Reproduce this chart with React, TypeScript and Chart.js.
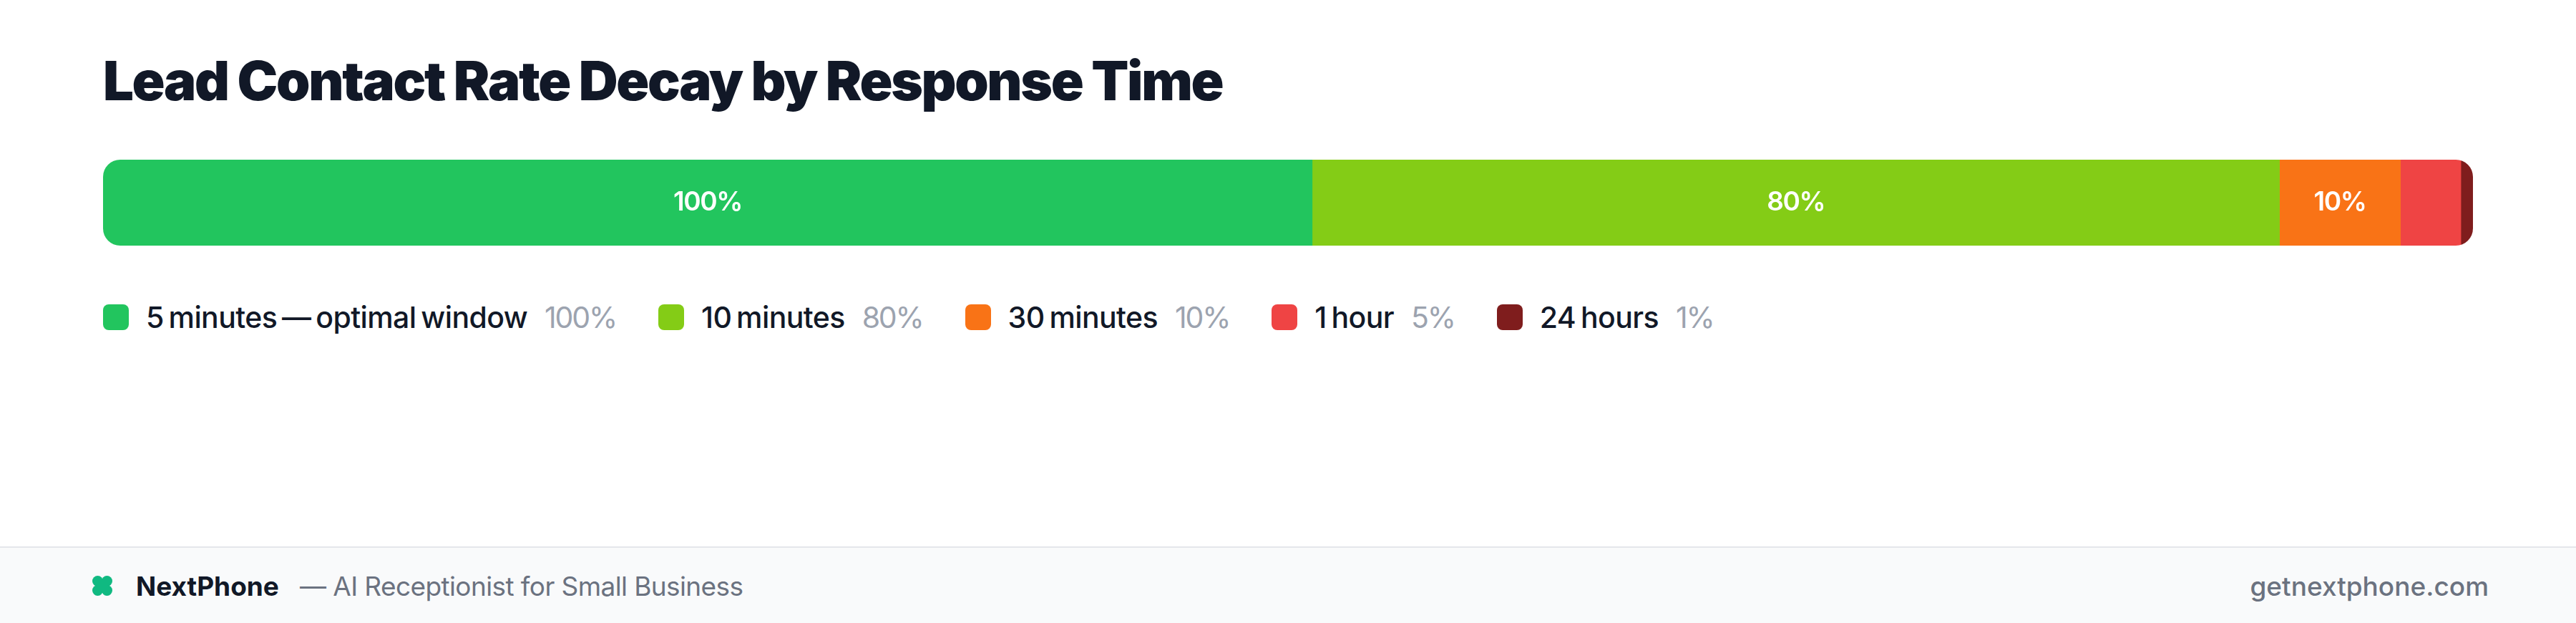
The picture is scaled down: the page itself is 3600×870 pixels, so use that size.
import { useEffect, useRef } from 'react'
import { Chart, registerables } from 'chart.js'
Chart.register(...registerables)

const TITLE = 'Lead Contact Rate Decay by Response Time'
const categories = ['5 minutes — optimal window', '10 minutes', '30 minutes', '1 hour', '24 hours']
const values = [100, 80, 10, 5, 1]
const colors = ['#22c55e', '#84cc16', '#f97316', '#ef4444', '#7f1d1d']
const valueLabels = ['100%', '80%', '10%', '5%', '1%']
const LABEL_MIN_VALUE = 10

const FONT = 'Inter, sans-serif'

// writes the percent in the middle of the segments wide enough to hold it
const segmentLabels = {
    id: 'segmentLabels',
    afterDatasetsDraw(chart: Chart) {
        const { ctx } = chart
        ctx.save()
        ctx.fillStyle = '#ffffff'
        ctx.font = `600 37px ${FONT}`
        ctx.letterSpacing = '-1.4px'
        ctx.textAlign = 'center'
        ctx.textBaseline = 'middle'
        chart.data.datasets.forEach((ds, i) => {
            if ((ds.data[0] as number) < LABEL_MIN_VALUE) return
            const bar = chart.getDatasetMeta(i).data[0] as any
            ctx.fillText(valueLabels[i], (bar.x + bar.base) / 2, bar.y)
        })
        ctx.restore()
    },
}

function StackedBar() {
    const canvasRef = useRef<HTMLCanvasElement>(null)

    useEffect(() => {
        if (!canvasRef.current) return
        const chart = new Chart(canvasRef.current, {
            type: 'bar',
            data: {
                labels: ['Contact rate'],
                datasets: categories.map((label, i) => ({
                    label,
                    data: [values[i]],
                    backgroundColor: colors[i],
                    borderWidth: 0,
                    categoryPercentage: 1,
                    barPercentage: 1,
                })),
            },
            options: {
                indexAxis: 'y',
                animation: false,
                responsive: true, maintainAspectRatio: false,
                layout: { padding: 0 },
                plugins: { legend: { display: false }, tooltip: { enabled: false } },
                scales: {
                    x: { stacked: true, display: false, min: 0, max: values.reduce((a, b) => a + b, 0) },
                    y: { stacked: true, display: false },
                },
            },
            plugins: [segmentLabels],
        })
        return () => chart.destroy()
    }, [])

    return (
        <div style={{ position: 'absolute', left: 144, top: 223, width: 3312, height: 120, borderRadius: 24, overflow: 'hidden' }}>
            <canvas ref={canvasRef} />
        </div>
    )
}

export default function App() {
    return (
        <div style={{ position: 'fixed', left: 0, top: 0, width: 3600, height: 870, background: '#ffffff', overflow: 'hidden', fontFamily: FONT }}>
            <div style={{ position: 'absolute', left: 144, top: 64, fontSize: 76, fontWeight: 900, lineHeight: '96px', color: '#111827', letterSpacing: -2.35, whiteSpace: 'nowrap' }}>
                {TITLE}
            </div>

            <StackedBar />

            <div style={{ position: 'absolute', left: 144, top: 416, height: 54, display: 'flex', alignItems: 'center', gap: 59, fontSize: 41, whiteSpace: 'nowrap' }}>
                {categories.map((label, i) => (
                    <span key={label} style={{ display: 'flex', alignItems: 'center', gap: 24 }}>
                        <span style={{ width: 36, height: 36, background: colors[i], borderRadius: 8, display: 'inline-block' }} />
                        <span style={{ color: '#111827', fontWeight: 500, letterSpacing: -0.6, wordSpacing: -3.5 }}>{label}</span>
                        <span style={{ color: '#9ca3af', fontWeight: 400, letterSpacing: -2.2 }}>{valueLabels[i]}</span>
                    </span>
                ))}
            </div>

            <div style={{ position: 'absolute', left: 0, top: 763, width: 3600, height: 107, boxSizing: 'border-box', borderTop: '2px solid #e5e7eb', background: '#f9fafb' }}>
                <svg width={28} height={28} viewBox="0 0 28 28" style={{ position: 'absolute', left: 129, top: 39 }}>
                    <g fill="#10b981">
                        <circle cx={7.5} cy={7.5} r={7.5} />
                        <circle cx={20.5} cy={7.5} r={7.5} />
                        <circle cx={7.5} cy={20.5} r={7.5} />
                        <circle cx={20.5} cy={20.5} r={7.5} />
                        <rect x={7} y={7} width={14} height={14} />
                    </g>
                </svg>
                <div style={{ position: 'absolute', left: 190, top: 30, lineHeight: '48px', fontSize: 37, fontWeight: 700, color: '#111827', whiteSpace: 'nowrap' }}>NextPhone</div>
                <div style={{ position: 'absolute', left: 419, top: 30, lineHeight: '48px', fontSize: 37, color: '#6b7280', letterSpacing: -0.6, whiteSpace: 'nowrap' }}>— AI Receptionist for Small Business</div>
                <div style={{ position: 'absolute', right: 122, top: 30, lineHeight: '48px', fontSize: 37, fontWeight: 500, color: '#6b7280', whiteSpace: 'nowrap' }}>getnextphone.com</div>
            </div>
        </div>
    )
}
